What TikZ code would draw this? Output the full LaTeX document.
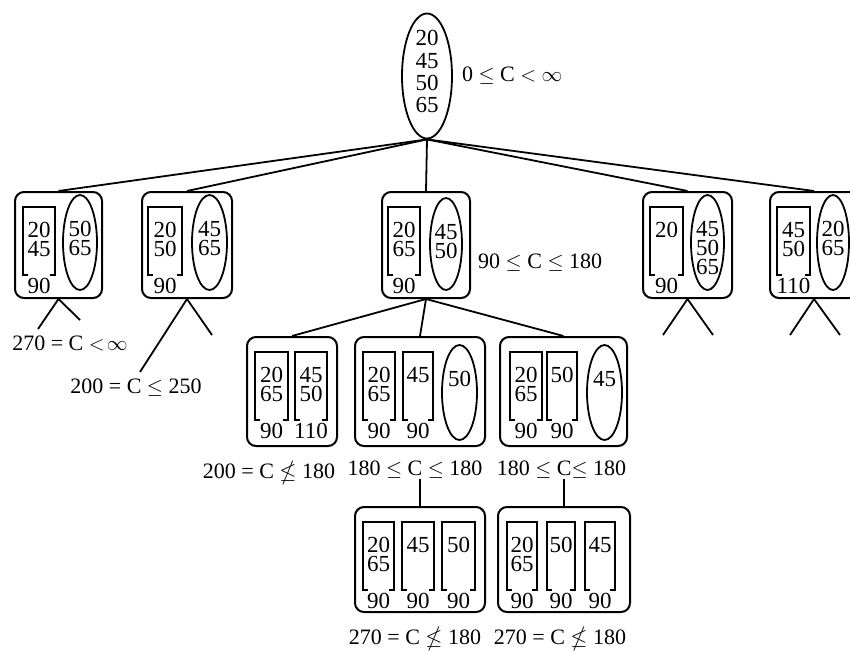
\documentclass[tikz,border=0pt]{standalone}
\usepackage{amssymb}
\usepackage{fontspec}
\setmainfont{Liberation Serif}
\usetikzlibrary{shapes.geometric,positioning}
\newcommand{\fs}{\fontsize{23}{19}\selectfont}
\newcommand{\fc}{\fontsize{22}{22}\selectfont}

\tikzset{
  box/.style={draw, rectangle, rounded corners=9pt, line width=2pt, inner sep=0pt},
  oval/.style={draw, ellipse, line width=1.8pt, inner sep=0pt},
  num/.style={inner sep=0pt, font=\fs, align=center},
  cond/.style={inner sep=0pt, font=\fc},
  edge/.style={line width=1.8pt}
}

% bracket slot: name, x left, x right, y top, y bottom, values, capacity
\newcommand{\slotbox}[7]{%
  \draw[line width=1.8pt] (#2+5,#5) -- (#2,#5) -- (#2,#4) -- (#3,#4) -- (#3,#5) -- (#3-5,#5);
  \node[num, anchor=north] (#1) at ({(#2+#3)/2},#4+15.3) {#6};
  \node[num] (#1-cap) at ({(#2+#3)/2},#5+11) {#7};
}
% ellipse pool: name, x left, x right, y top, y bottom, values
\newcommand{\poolbox}[6]{%
  \node[oval, minimum width=#3-#2, minimum height=#5-#4] (#1) at ({(#2+#3)/2},{(#4+#5)/2}) {};
  \node[num, anchor=north] (#1-v) at ({(#2+#3)/2},#4+26.3) {#6};
}

\begin{document}
\begin{tikzpicture}[x=1pt, y=-1pt]
  \useasboundingbox (0,0) rectangle (850,651);

  % root
  \node[oval, minimum width=50, minimum height=125] (root) at (427,76) {};
  \node[num, anchor=north, font=\fontsize{23}{22.3}\selectfont] (root-v) at (427,30.3) {20\\45\\50\\65};
  \node[cond, right=9pt of root] (rootc) {0 $\leq$ C $<$ $\infty$};

  % first level
  \node[box, minimum width=87, minimum height=106] (c1) at (58.5,245) {};
  \slotbox{c1s}{23}{55}{207}{275}{20\\45}{90}
  \poolbox{c1p}{63}{97}{195}{290}{50\\65}

  \node[box, minimum width=90, minimum height=106] (c2) at (187,245) {};
  \slotbox{c2s}{148}{182}{207}{275}{20\\50}{90}
  \poolbox{c2p}{192}{227}{195}{290}{45\\65}

  \node[box, minimum width=88, minimum height=106] (c3) at (426,245) {};
  \slotbox{c3s}{388}{420}{207}{275}{20\\65}{90}
  \poolbox{c3p}{430}{462}{198}{290}{45\\50}
  \node[cond, right=7pt of c3, yshift=-18pt] (c3c) {90 $\leq$ C $\leq$ 180};

  \node[box, minimum width=89, minimum height=106] (c4) at (687.5,245) {};
  \slotbox{c4s}{650}{683}{207}{275}{20}{90}
  \poolbox{c4p}{691}{724}{195}{290}{45\\50\\65}

  \node[box, minimum width=88, minimum height=106] (c5) at (814,245) {};
  \slotbox{c5s}{777}{810}{207}{275}{45\\50}{110}
  \poolbox{c5p}{817}{849}{195}{290}{20\\65}

  \foreach \c in {c1,c2,c3,c4,c5}
    \draw[edge] (root.south) -- (\c.north);

  % open branches
  \coordinate (c1a) at (38,329);
  \coordinate (c1b) at (80,320);
  \coordinate (c2a) at (140,372);
  \coordinate (c2b) at (212,335);
  \coordinate (c4a) at (663,335);
  \coordinate (c4b) at (713,335);
  \coordinate (c5a) at (790,335);
  \coordinate (c5b) at (840,335);
  \draw[edge] (c1a) -- (c1.south) -- (c1b);
  \draw[edge] (c2a) -- (c2.south) -- (c2b);
  \draw[edge] (c4a) -- (c4.south) -- (c4b);
  \draw[edge] (c5a) -- (c5.south) -- (c5b);
  \node[cond] (c1c) at (70,343) {270 = C $<\!\infty$};
  \node[cond] (c2c) at (136,388) {200 = C $\leq$ 250};

  % second level
  \node[box, minimum width=90, minimum height=109] (g1) at (292,391.5) {};
  \slotbox{g1s}{255}{288}{352}{420}{20\\65}{90}
  \slotbox{g1t}{295}{327}{352}{420}{45\\50}{110}

  \node[box, minimum width=130, minimum height=109] (g2) at (420,391.5) {};
  \slotbox{g2s}{363}{395}{352}{420}{20\\65}{90}
  \slotbox{g2t}{403}{433}{352}{420}{45}{90}
  \poolbox{g2p}{442}{477}{345}{440}{50}

  \node[box, minimum width=127, minimum height=109] (g3) at (563.5,391.5) {};
  \slotbox{g3s}{510}{542}{352}{420}{20\\65}{90}
  \slotbox{g3t}{547}{577}{352}{420}{50}{90}
  \poolbox{g3p}{587}{622}{345}{440}{45}

  \foreach \g in {g1,g2,g3}
    \draw[edge] (c3.south) -- (\g.north);

  \node[cond, below=14pt of g1, xshift=-23pt] (g1c) {200 = C $\nleq$ 180};
  \node[cond, below=14pt of g2, xshift=-5pt] (g2c) {180 $\leq$ C $\leq$ 180};
  \node[cond, below=14pt of g3, xshift=-2pt] (g3c) {180 $\leq$ C$\leq$ 180};

  % third level
  \node[box, minimum width=130, minimum height=105] (h1) at (420,559.5) {};
  \slotbox{h1s}{363}{394}{522}{590}{20\\65}{90}
  \slotbox{h1t}{402}{434}{522}{590}{45}{90}
  \slotbox{h1u}{442}{475}{522}{590}{50}{90}

  \node[box, minimum width=132, minimum height=105] (h2) at (564,559.5) {};
  \slotbox{h2s}{507}{537}{522}{590}{20\\65}{90}
  \slotbox{h2t}{547}{575}{522}{590}{50}{90}
  \slotbox{h2u}{585}{615}{522}{590}{45}{90}

  \draw[edge] (h1.north) -- (h1.north |- g2c.south);
  \draw[edge] (h2.north) -- (h2.north |- g3c.south);

  \node[cond, below=14pt of h1, xshift=-5pt] (h1c) {270 = C $\nleq$ 180};
  \node[cond, below=14pt of h2, xshift=-4pt] (h2c) {270 = C $\nleq$ 180};
\end{tikzpicture}
\end{document}
